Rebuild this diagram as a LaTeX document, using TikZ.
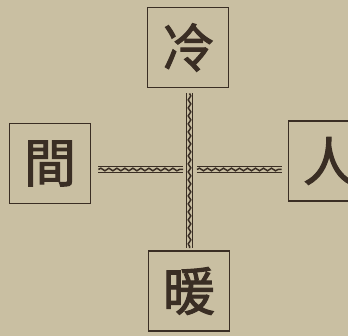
\documentclass[tikz,border=0pt]{standalone}
\usepackage{fontspec}
\newfontfamily\cjk[FakeBold=2]{Noto Sans CJK TC}
\usetikzlibrary{decorations.pathmorphing}
\definecolor{paper}{RGB}{201,191,162}
\definecolor{ink}{RGB}{58,46,36}
\tikzset{
  charbox/.style={draw=ink, line width=1.8pt, minimum width=81pt, minimum height=80pt,
    inner sep=0pt, text=ink, font=\cjk\fontsize{52}{52}\selectfont},
  wavyline/.style={draw=ink, double=paper, double distance=5.4pt, line width=0.8pt,
    postaction={draw=ink, line width=1.5pt, decorate,
      decoration={snake, amplitude=1.3pt, segment length=8pt}}}
}
\begin{document}
\begin{tikzpicture}[x=1pt,y=1pt]
\fill[paper] (0,0) rectangle (348,336);
\useasboundingbox (0,0) rectangle (348,336);
\node[charbox] (top) at (188,288.5) {冷};
\node[charbox] (left) at (50,172.5) {間};
\node[charbox] (right) at (329,175) {人};
\node[charbox] (bottom) at (189,45) {暖};
\coordinate (c) at (189.5,166.5);
\draw[wavyline] ([xshift=7pt]left.east |- c) -- ([xshift=-6.5pt]c);
\draw[wavyline] ([xshift=7.5pt]c) -- ([xshift=-6pt]right.west |- c);
\draw[wavyline] (c |- top.south) ++(0,-5pt) -- ([yshift=2pt]c |- bottom.north);
\end{tikzpicture}
\end{document}
